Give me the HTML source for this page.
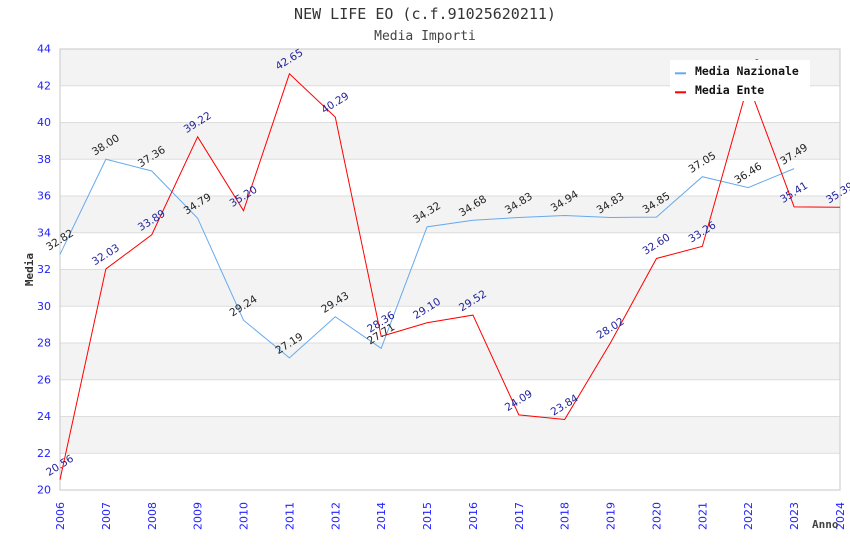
<!DOCTYPE html>
<html><head><meta charset="utf-8"><style>
html,body{margin:0;padding:0;background:#fff;}
svg{display:block;}
</style></head><body>
<svg width="850" height="550" viewBox="0 0 850 550" xmlns="http://www.w3.org/2000/svg">
<rect x="0" y="0" width="850" height="550" fill="#fff"/>
<!-- bands -->
<g fill="#f3f3f3">
<rect x="60" y="49" width="780" height="36.75"/>
<rect x="60" y="122.5" width="780" height="36.75"/>
<rect x="60" y="196" width="780" height="36.75"/>
<rect x="60" y="269.5" width="780" height="36.75"/>
<rect x="60" y="343" width="780" height="36.75"/>
<rect x="60" y="416.5" width="780" height="36.75"/>
</g>
<g stroke="#dddddd" stroke-width="1">
<line x1="60" y1="85.75" x2="840" y2="85.75"/>
<line x1="60" y1="122.5" x2="840" y2="122.5"/>
<line x1="60" y1="159.25" x2="840" y2="159.25"/>
<line x1="60" y1="196" x2="840" y2="196"/>
<line x1="60" y1="232.75" x2="840" y2="232.75"/>
<line x1="60" y1="269.5" x2="840" y2="269.5"/>
<line x1="60" y1="306.25" x2="840" y2="306.25"/>
<line x1="60" y1="343" x2="840" y2="343"/>
<line x1="60" y1="379.75" x2="840" y2="379.75"/>
<line x1="60" y1="416.5" x2="840" y2="416.5"/>
<line x1="60" y1="453.25" x2="840" y2="453.25"/>
</g>
<rect x="60" y="49" width="780" height="441" fill="none" stroke="#d0d0d0" stroke-width="1.2"/>

<!-- title -->
<text x="425" y="19" text-anchor="middle" font-family="'DejaVu Sans Mono','Liberation Mono',monospace" font-size="15" fill="#333">NEW LIFE EO (c.f.91025620211)</text>
<text x="425" y="40" text-anchor="middle" font-family="'DejaVu Sans Mono','Liberation Mono',monospace" font-size="13" fill="#444">Media Importi</text>

<!-- y labels -->
<g font-family="'DejaVu Sans',sans-serif" font-size="11" fill="#2222ff" text-anchor="end" dominant-baseline="central">
<text x="51" y="49">44</text>
<text x="51" y="85.75">42</text>
<text x="51" y="122.5">40</text>
<text x="51" y="159.25">38</text>
<text x="51" y="196">36</text>
<text x="51" y="232.75">34</text>
<text x="51" y="269.5">32</text>
<text x="51" y="306.25">30</text>
<text x="51" y="343">28</text>
<text x="51" y="379.75">26</text>
<text x="51" y="416.5">24</text>
<text x="51" y="453.25">22</text>
<text x="51" y="490">20</text>
</g>

<!-- x labels -->
<g font-family="'DejaVu Sans',sans-serif" font-size="11" fill="#2222ff" text-anchor="end">
<text transform="translate(64,502) rotate(-90)">2006</text>
<text transform="translate(109.88,502) rotate(-90)">2007</text>
<text transform="translate(155.76,502) rotate(-90)">2008</text>
<text transform="translate(201.65,502) rotate(-90)">2009</text>
<text transform="translate(247.53,502) rotate(-90)">2010</text>
<text transform="translate(293.41,502) rotate(-90)">2011</text>
<text transform="translate(339.29,502) rotate(-90)">2012</text>
<text transform="translate(385.18,502) rotate(-90)">2014</text>
<text transform="translate(431.06,502) rotate(-90)">2015</text>
<text transform="translate(476.94,502) rotate(-90)">2016</text>
<text transform="translate(522.82,502) rotate(-90)">2017</text>
<text transform="translate(568.71,502) rotate(-90)">2018</text>
<text transform="translate(614.59,502) rotate(-90)">2019</text>
<text transform="translate(660.47,502) rotate(-90)">2020</text>
<text transform="translate(706.35,502) rotate(-90)">2021</text>
<text transform="translate(752.24,502) rotate(-90)">2022</text>
<text transform="translate(798.12,502) rotate(-90)">2023</text>
<text transform="translate(844,502) rotate(-90)">2024</text>
</g>

<!-- axis titles -->
<text transform="translate(33,269.5) rotate(-90)" text-anchor="middle" font-family="'DejaVu Sans Mono','Liberation Mono',monospace" font-weight="bold" font-size="11" fill="#333">Media</text>
<text x="812" y="528" font-family="'DejaVu Sans Mono','Liberation Mono',monospace" font-weight="bold" font-size="11" fill="#444">Anno</text>

<!-- series -->
<polyline fill="none" stroke="#66aaee" stroke-width="1" points="60,254.43 105.88,159.25 151.76,171.01 197.65,218.23 243.53,320.21 289.41,357.88 335.29,316.72 381.18,348.33 427.06,226.87 472.94,220.25 518.82,217.5 564.71,215.48 610.59,217.5 656.47,217.13 702.35,176.71 748.24,187.55 794.12,168.62"/>
<polyline fill="none" stroke="#ff0000" stroke-width="1" points="60,479.71 105.88,268.95 151.76,234.77 197.65,136.83 243.53,210.7 289.41,73.81 335.29,117.17 381.18,336.38 427.06,322.79 472.94,315.07 518.82,414.85 564.71,419.44 610.59,342.63 656.47,258.47 702.35,246.35 748.24,83.91 794.12,206.84 840,207.21"/>

<!-- Nazionale labels -->
<g font-family="'DejaVu Sans',sans-serif" font-size="10.5" fill="#222" text-anchor="middle" dominant-baseline="central">
<text transform="translate(60,240.4) rotate(-32)">32.82</text>
<text transform="translate(105.88,145.25) rotate(-32)">38.00</text>
<text transform="translate(151.76,157) rotate(-32)">37.36</text>
<text transform="translate(197.65,204.2) rotate(-32)">34.79</text>
<text transform="translate(243.53,306.2) rotate(-32)">29.24</text>
<text transform="translate(289.41,343.9) rotate(-32)">27.19</text>
<text transform="translate(335.29,302.7) rotate(-32)">29.43</text>
<text transform="translate(381.18,334.3) rotate(-32)">27.71</text>
<text transform="translate(427.06,212.9) rotate(-32)">34.32</text>
<text transform="translate(472.94,206.25) rotate(-32)">34.68</text>
<text transform="translate(518.82,203.5) rotate(-32)">34.83</text>
<text transform="translate(564.71,201.5) rotate(-32)">34.94</text>
<text transform="translate(610.59,203.5) rotate(-32)">34.83</text>
<text transform="translate(656.47,203.1) rotate(-32)">34.85</text>
<text transform="translate(702.35,162.7) rotate(-32)">37.05</text>
<text transform="translate(748.24,173.55) rotate(-32)">36.46</text>
<text transform="translate(794.12,154.6) rotate(-32)">37.49</text>
</g>
<!-- Ente labels -->
<g font-family="'DejaVu Sans',sans-serif" font-size="10.5" fill="#22229a" text-anchor="middle" dominant-baseline="central">
<text transform="translate(60,465.7) rotate(-32)">20.56</text>
<text transform="translate(105.88,254.95) rotate(-32)">32.03</text>
<text transform="translate(151.76,220.8) rotate(-32)">33.89</text>
<text transform="translate(197.65,122.8) rotate(-32)">39.22</text>
<text transform="translate(243.53,196.7) rotate(-32)">35.20</text>
<text transform="translate(289.41,59.8) rotate(-32)">42.65</text>
<text transform="translate(335.29,103.2) rotate(-32)">40.29</text>
<text transform="translate(381.18,322.4) rotate(-32)">28.36</text>
<text transform="translate(427.06,308.8) rotate(-32)">29.10</text>
<text transform="translate(472.94,301.1) rotate(-32)">29.52</text>
<text transform="translate(518.82,400.85) rotate(-32)">24.09</text>
<text transform="translate(564.71,405.4) rotate(-32)">23.84</text>
<text transform="translate(610.59,328.6) rotate(-32)">28.02</text>
<text transform="translate(656.47,244.5) rotate(-32)">32.60</text>
<text transform="translate(702.35,232.35) rotate(-32)">33.26</text>
<text transform="translate(748.24,69.9) rotate(-32)">42.10</text>
<text transform="translate(794.12,192.8) rotate(-32)">35.41</text>
<text transform="translate(840,193.2) rotate(-32)">35.39</text>
</g>

<!-- legend -->
<rect x="670" y="60" width="140" height="41" fill="#fff"/>
<rect x="675" y="72.3" width="11" height="2" fill="#66aaee"/>
<rect x="675" y="91.3" width="11" height="2" fill="#ff0000"/>
<g font-family="'DejaVu Sans Mono','Liberation Mono',monospace" font-weight="bold" font-size="11.5" fill="#111">
<text x="695" y="75">Media Nazionale</text>
<text x="695" y="94">Media Ente</text>
</g>
</svg>
</body></html>
